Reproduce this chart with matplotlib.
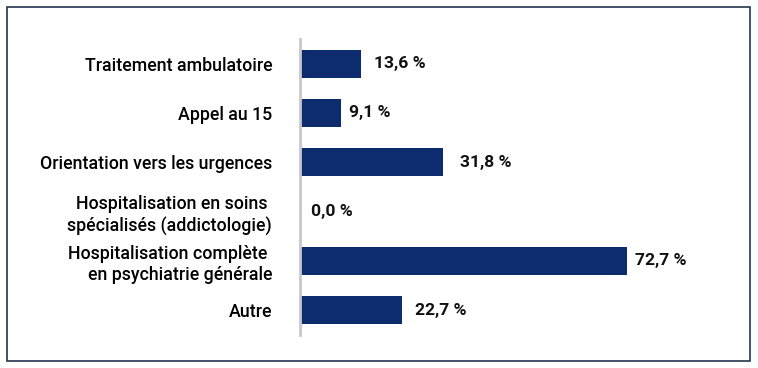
import numpy as np
import matplotlib
matplotlib.use("Agg")
import matplotlib.pyplot as plt
from matplotlib.patches import Rectangle

categories = [
    "Traitement ambulatoire",
    "Appel au 15",
    "Orientation vers les urgences",
    "Hospitalisation en soins \nspécialisés (addictologie)",
    "Hospitalisation complète \nen psychiatrie générale",
    "Autre",
]
values = [13.6, 9.1, 31.8, 0.0, 72.7, 22.7]
value_labels = ["13,6 %", "9,1 %", "31,8 %", "0,0 %", "72,7 %", "22,7 %"]

# label offsets (points) from bar end, as in the original
label_gap = [9, 6, 12, 8, 6, 9]

navy = "#0d2c6e"
plt.rcParams["font.family"] = ["Roboto", "DejaVu Sans"]

fig = plt.figure(figsize=(7.58, 3.68), dpi=100)
fig.patches.append(Rectangle((7 / 758, 7 / 368), 743 / 758, 354 / 368,
                             transform=fig.transFigure, fill=False,
                             edgecolor="#24344d", lw=1.2))

ax = fig.add_axes([300 / 758, 33 / 368, 405 / 758, 296 / 368])
y = np.arange(len(categories))
ax.barh(y, values, height=0.57, color=navy)

for yi, v, lab, g in zip(y, values, value_labels, label_gap):
    ax.annotate(lab, (v, yi), xytext=(g, 0), textcoords="offset points",
                va="center", ha="left", fontsize=12.6, fontweight="bold",
                color="#111111")

ax.set_xlim(0, 90)
ax.set_ylim(5.5, -0.5)
ax.set_yticks(y)
ax.set_yticklabels(categories, fontsize=12.8, color="#000000",
                   linespacing=1.25, fontweight="medium")
ax.tick_params(axis="y", length=0, pad=20)
ax.set_xticks([])
for s in ["top", "right", "bottom"]:
    ax.spines[s].set_visible(False)
ax.spines["left"].set_color("#c8c8c8")
ax.spines["left"].set_linewidth(2)

fig.savefig("out.png", dpi=100)
